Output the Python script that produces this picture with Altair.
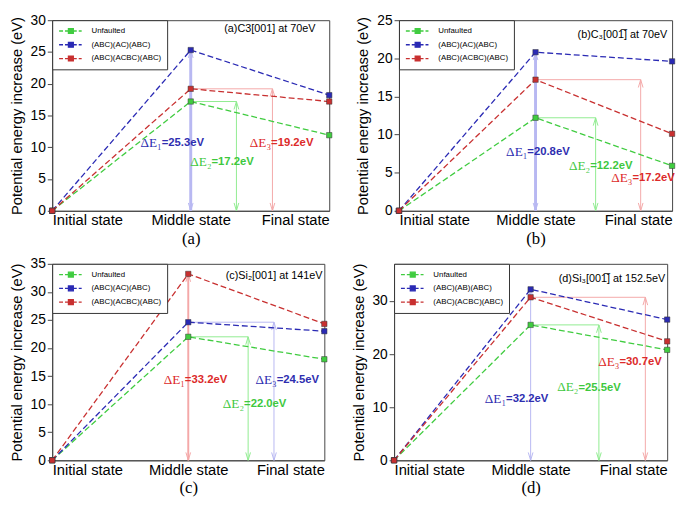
import altair as alt
import pandas as pd

STATES = ["Initial state", "Middle state", "Final state"]
STATE_POS = [0, 1, 2]
NAMES_AC = ["Unfaulted", "(ABC)(AC)(ABC)", "(ABC)(ACBC)(ABC)"]
NAMES_AB = ["Unfaulted", "(ABC)(AB)(ABC)", "(ABC)(ACBC)(ABC)"]
SUBS = ["ΔE₁", "ΔE₂", "ΔE₃"]

# (a) C3[001] at 70eV
A_UNF = [0, 17.2, 11.9]
A_BLUE = [0, 25.3, 18.2]
A_RED = [0, 19.2, 17.2]
A_ARROW_X = [1.0, 1.33, 1.59]
A_ARROW_TOP = [25.3, 17.2, 19.2]
A_ARROW_SERIES = [1, 0, 2]
A_LABEL_VAL = ["=25.3eV", "=17.2eV", "=19.2eV"]
A_LABEL_X = [0.79, 1.15, 1.58]
A_LABEL_Y = [10.6, 7.65, 10.65]

# (b) C3[00-1] at 70eV
B_UNF = [0, 12.2, 5.9]
B_BLUE = [0, 20.8, 19.6]
B_RED = [0, 17.2, 10.1]
B_ARROW_X = [1.0, 1.44, 1.77]
B_ARROW_TOP = [20.8, 12.2, 17.2]
B_ARROW_SERIES = [1, 0, 2]
B_LABEL_VAL = ["=20.8eV", "=12.2eV", "=17.2eV"]
B_LABEL_X = [0.94, 1.40, 1.71]
B_LABEL_Y = [7.75, 5.9, 4.3]

# (c) Si2[001] at 141eV
C_UNF = [0, 22.0, 18.0]
C_BLUE = [0, 24.6, 23.0]
C_RED = [0, 33.2, 24.3]
C_ARROW_X = [1.0, 1.44, 1.63]
C_ARROW_TOP = [33.2, 22.0, 24.6]
C_ARROW_SERIES = [2, 0, 1]
C_LABEL_VAL = ["=33.2eV", "=22.0eV", "=24.5eV"]
C_LABEL_X = [0.975, 1.41, 1.65]
C_LABEL_Y = [14.35, 9.97, 14.35]

# (d) Si3[00-1] at 152.5eV
D_UNF = [0, 25.5, 20.8]
D_BLUE = [0, 32.2, 26.5]
D_RED = [0, 30.7, 22.4]
D_ARROW_X = [1.0, 1.50, 1.84]
D_ARROW_TOP = [32.2, 25.5, 30.7]
D_ARROW_SERIES = [1, 0, 2]
D_LABEL_VAL = ["=32.2eV", "=25.5eV", "=30.7eV"]
D_LABEL_X = [0.82, 1.35, 1.65]
D_LABEL_Y = [11.5, 13.7, 18.5]

LINE_COLORS = ["#40cc40", "#2a2ab4", "#c83030"]
PALE_COLORS = ["#90ec90", "#b8b8f2", "#f4a8a8"]
TEXT_COLORS = ["#3ec83e", "#2e2eb0", "#dc2a2a"]

SANS = "Liberation Sans"
SERIF = "Liberation Serif"

LEGEND_PATH = ("M-0.8,0H0.0M0.4,0H1.1M1.1,-0.5H2.1V0.5H1.1Z"
               "M2.1,0H2.8M3.2,0H3.8")
UP_HEAD = "M-0.6,2L0,0L0.6,2"
DOWN_HEAD = "M-0.6,-2L0,0L0.6,-2"


def panel(series, names, ymax, yticks, title, caption, ax, atop, aser,
          lval, lx, ly, width, height, title_dx, title_dy, mid_w):
    rows = []
    for name, vals in zip(names, series):
        for s, v in zip(STATE_POS, vals):
            rows.append({"series": name, "s": s, "v": v})
    df = pd.DataFrame(rows)

    arr = pd.DataFrame({
        "x": ax, "top": atop, "x0": [1.0] * len(ax), "zero": [0.0] * len(ax),
        "c": [PALE_COLORS[i] for i in aser],
        "w": [mid_w if x == 1.0 else 1.0 for x in ax],
    })
    lab = pd.DataFrame({
        "x": lx, "y": ly, "sub": SUBS, "val": lval,
        "c": [TEXT_COLORS[i] for i in aser],
    })

    xs = alt.Scale(domain=[0, 2], nice=False, zero=False)
    ys = alt.Scale(domain=[0, ymax], nice=False)
    xaxis = alt.Axis(values=STATE_POS,
                     labelExpr="['Initial state','Middle state','Final state'][datum.value]",
                     labelFlush=True, ticks=False, grid=False, labelFontSize=15,
                     labelPadding=2, labelFont=SANS, labelColor="black",
                     title=caption, titleFont=SERIF, titleFontSize=17,
                     titleFontWeight="normal", titlePadding=3, titleColor="black",
                     domainColor="#444")
    yaxis = alt.Axis(values=yticks, grid=False, tickSize=5, labelFontSize=14,
                     labelFont=SANS, labelColor="black", labelPadding=2,
                     title="Potential energy increase (eV)", titleFont=SANS,
                     titleFontSize=15, titleFontWeight="normal", titlePadding=6,
                     titleColor="black", domainColor="#444", tickColor="#444")
    X = alt.X("s:Q", scale=xs, axis=xaxis)
    Y = alt.Y("v:Q", scale=ys, axis=yaxis)

    color = alt.Color("series:N", scale=alt.Scale(domain=names, range=LINE_COLORS),
                      legend=alt.Legend(title=None, orient="top-left", offset=0,
                                        padding=5, strokeColor="#333",
                                        fillColor="white", labelFontSize=8,
                                        labelFont=SANS, labelColor="black",
                                        symbolType=LEGEND_PATH, symbolSize=100,
                                        symbolStrokeWidth=1.3, labelOffset=23,
                                        rowPadding=2, symbolOpacity=1))

    points = alt.Chart(df).mark_point(shape="square", filled=True, size=30,
                                      opacity=1, stroke="#333",
                                      strokeWidth=0.5).encode(x=X, y=Y, color=color)
    lines = alt.Chart(df).mark_line(strokeDash=[6, 3], strokeWidth=1.3).encode(
        x=X, y=Y, color=color, detail="series:N")

    vrule = alt.Chart(arr).mark_rule().encode(
        x=alt.X("x:Q", scale=xs, axis=xaxis),
        y=alt.Y("zero:Q", scale=ys, axis=yaxis), y2="top:Q",
        stroke=alt.Stroke("c:N", scale=None),
        strokeWidth=alt.StrokeWidth("w:Q", scale=None))
    hrule = alt.Chart(arr).transform_filter("datum.x > 1.001").mark_rule(
        strokeWidth=1).encode(
        x=alt.X("x0:Q", scale=xs, axis=xaxis), x2="x:Q",
        y=alt.Y("top:Q", scale=ys, axis=yaxis),
        stroke=alt.Stroke("c:N", scale=None))
    uphead = alt.Chart(arr).mark_point(shape=UP_HEAD, filled=False, size=64,
                                       strokeWidth=1, opacity=1).encode(
        x=alt.X("x:Q", scale=xs, axis=xaxis), y=alt.Y("top:Q", scale=ys, axis=yaxis),
        stroke=alt.Stroke("c:N", scale=None))
    downhead = alt.Chart(arr).mark_point(shape=DOWN_HEAD, filled=False, size=64,
                                         strokeWidth=1, opacity=1).encode(
        x=alt.X("x:Q", scale=xs, axis=xaxis), y=alt.Y("zero:Q", scale=ys, axis=yaxis),
        stroke=alt.Stroke("c:N", scale=None))

    sub_text = alt.Chart(lab).mark_text(align="right", baseline="middle",
                                        font=SERIF, fontSize=13.5).encode(
        x=alt.X("x:Q", scale=xs, axis=xaxis), y=alt.Y("y:Q", scale=ys, axis=yaxis),
        text="sub:N", fill=alt.Fill("c:N", scale=None))
    val_text = alt.Chart(lab).mark_text(align="left", baseline="middle",
                                        font=SANS, fontSize=11.5,
                                        fontWeight="bold").encode(
        x=alt.X("x:Q", scale=xs, axis=xaxis), y=alt.Y("y:Q", scale=ys, axis=yaxis),
        text="val:N", fill=alt.Fill("c:N", scale=None))

    ttl = alt.Chart(pd.DataFrame({"t": [title]})).mark_text(
        align="right", baseline="middle", font=SANS, fontSize=11,
        color="black").encode(x=alt.value(width - title_dx),
                              y=alt.value(title_dy), text="t:N")

    return alt.layer(vrule, hrule, uphead, downhead, lines, points,
                     sub_text, val_text, ttl).properties(width=width, height=height)


pa = panel([A_UNF, A_BLUE, A_RED], NAMES_AC, 30, [0, 5, 10, 15, 20, 25, 30],
           "(a)C3[001] at 70eV", "(a)", A_ARROW_X, A_ARROW_TOP, A_ARROW_SERIES,
           A_LABEL_VAL, A_LABEL_X, A_LABEL_Y, 282, 194, 14, 9, 3)
pb = panel([B_UNF, B_BLUE, B_RED], NAMES_AC, 25, [0, 5, 10, 15, 20, 25],
           "(b)C₃[001\u0305] at 70eV", "(b)", B_ARROW_X, B_ARROW_TOP, B_ARROW_SERIES,
           B_LABEL_VAL, B_LABEL_X, B_LABEL_Y, 278, 194, 5, 15, 3)
pc = panel([C_UNF, C_BLUE, C_RED], NAMES_AC, 35, [0, 5, 10, 15, 20, 25, 30, 35],
           "(c)Si₂[001] at 141eV", "(c)", C_ARROW_X, C_ARROW_TOP, C_ARROW_SERIES,
           C_LABEL_VAL, C_LABEL_X, C_LABEL_Y, 277, 200, 2, 12, 2)
pd_ = panel([D_UNF, D_BLUE, D_RED], NAMES_AB, 37, [0, 10, 20, 30],
            "(d)Si₃[001\u0305] at 152.5eV", "(d)", D_ARROW_X, D_ARROW_TOP, D_ARROW_SERIES,
            D_LABEL_VAL, D_LABEL_X, D_LABEL_Y, 278, 200, 2, 16, 1)

top = alt.hconcat(pa, pb, spacing=21).resolve_scale(color="independent")
bottom = alt.hconcat(pc, pd_, spacing=21).resolve_scale(color="independent")
chart = alt.vconcat(top, bottom, spacing=9).resolve_scale(
    color="independent").properties(padding=0).configure_view(
    stroke="#444", strokeWidth=1)

chart.save("out.html", embed_options={"renderer": "svg", "actions": False})
